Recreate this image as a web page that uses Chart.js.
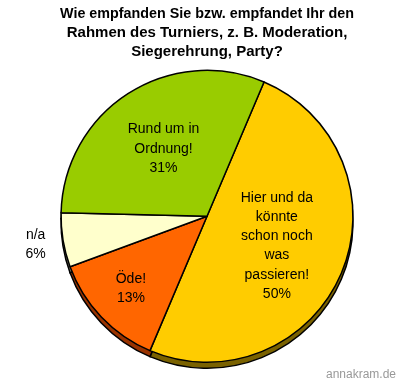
<!DOCTYPE html>
<html>
<head>
<meta charset="utf-8">
<script src="https://cdn.jsdelivr.net/npm/chart.js@4/dist/chart.umd.min.js"></script>
<style>
  html, body { margin: 0; padding: 0; background: #fff; }
  #wrap { width: 400px; height: 384px; }
</style>
</head>
<body>
<div id="wrap"><canvas id="chart"></canvas></div>
<script>
// slices, clockwise starting at the top-right edge
const categories = [
  ["Hier und da", "könnte", "schon noch", "was", "passieren!"],
  ["Öde!"],
  ["n/a"],
  ["Rund um in", "Ordnung!"],
]
const values = [50, 13, 6, 31]
const percentLabels = ["50%", "13%", "6%", "31%"]
const titleLines = [
  "Wie empfanden Sie bzw. empfandet Ihr den",
  "Rahmen des Turniers, z. B. Moderation,",
  "Siegerehrung, Party?",
]

const faceColors = ["#FFCC00", "#FF6600", "#FFFFCC", "#99CC00"]
const sideColors = ["#7A6200", "#993300", "#80806A", "#4D6600"]
// how far out (fraction of radius) each label block sits
const labelDistance = [0.52, 0.72, 1.19, 0.55]

const FONT = "'Liberation Sans', Arial, sans-serif"

const depthPlugin = {
  id: "depth",
  beforeDatasetsDraw(chart) {
    const ctx = chart.ctx
    const arcs = chart.getDatasetMeta(0).data
    const depth = 6
    ctx.save()
    ctx.lineWidth = 1.5
    ctx.strokeStyle = "#000"
    arcs.forEach((arc, i) => {
      const { x, y, startAngle, endAngle, outerRadius } = arc.getProps(["x", "y", "startAngle", "endAngle", "outerRadius"])
      ctx.beginPath()
      ctx.moveTo(x, y + depth)
      ctx.arc(x, y + depth, outerRadius, startAngle, endAngle)
      ctx.closePath()
      ctx.fillStyle = sideColors[i]
      ctx.fill()
      ctx.stroke()
    })
    ctx.restore()
  },
}

const labelPlugin = {
  id: "sliceLabels",
  afterDatasetsDraw(chart) {
    const ctx = chart.ctx
    const arcs = chart.getDatasetMeta(0).data
    const lineH = 19.3
    ctx.save()
    ctx.font = "14px " + FONT
    ctx.fillStyle = "#000"
    ctx.textAlign = "center"
    ctx.textBaseline = "middle"
    arcs.forEach((arc, i) => {
      const { x, y, startAngle, endAngle, outerRadius } = arc.getProps(["x", "y", "startAngle", "endAngle", "outerRadius"])
      const mid = (startAngle + endAngle) / 2
      const r = outerRadius * labelDistance[i]
      const cx = x + Math.cos(mid) * r
      const cy = y + Math.sin(mid) * r
      const lines = [...categories[i], percentLabels[i]]
      const top = cy - (lines.length - 1) * lineH / 2
      lines.forEach((line, j) => ctx.fillText(line, cx, top + j * lineH))
    })
    // watermark
    ctx.font = "12px " + FONT
    ctx.fillStyle = "#999999"
    ctx.textAlign = "right"
    ctx.textBaseline = "alphabetic"
    ctx.fillText("annakram.de", 396, 378)
    ctx.restore()
  },
}

new Chart(document.getElementById("chart"), {
  type: "pie",
  data: {
    labels: categories.map(c => c.join(" ")),
    datasets: [{
      data: values,
      backgroundColor: faceColors,
      borderColor: "#000",
      borderWidth: 1.5,
      borderJoinStyle: "round",
    }],
  },
  options: {
    responsive: true,
    maintainAspectRatio: false,
    animation: false,
    rotation: 23,
    layout: {
      padding: { left: 60, right: 46, top: 0, bottom: 21 },
    },
    plugins: {
      legend: { display: false },
      tooltip: { enabled: false },
      title: {
        display: true,
        text: titleLines,
        color: "#000",
        font: { family: FONT, size: 15, weight: "bold", lineHeight: 1.28 },
        padding: { top: 4, bottom: 8 },
      },
    },
  },
  plugins: [depthPlugin, labelPlugin],
})
</script>
</body>
</html>
